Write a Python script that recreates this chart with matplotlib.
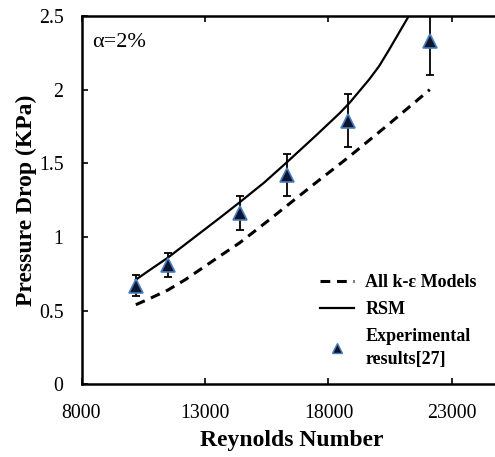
import matplotlib
matplotlib.use("Agg")
import matplotlib.pyplot as plt
from matplotlib.lines import Line2D

# Data
exp_re = [10200, 11500, 14400, 16300, 18800, 22100]
exp_dp = [0.67, 0.81, 1.16, 1.42, 1.79, 2.33]
exp_err = [0.07, 0.08, 0.115, 0.14, 0.18, 0.23]

rsm_re = [10200, 10800, 11500, 12200, 12900, 13600, 14400, 15400, 16300,
          17500, 18450, 18850, 19250, 19650, 20050, 20450, 20850, 21250, 21500]
rsm_dp = [0.71, 0.78, 0.86, 0.95, 1.04, 1.13, 1.235, 1.37, 1.505,
          1.69, 1.84, 1.91, 1.99, 2.07, 2.16, 2.27, 2.385, 2.50, 2.57]

ke_re = [10200, 10800, 11500, 12200, 12900, 13600, 14400, 15400, 16300,
         17500, 18800, 20400, 22100]
ke_dp = [0.54, 0.585, 0.64, 0.71, 0.79, 0.87, 0.96, 1.09, 1.21,
         1.37, 1.54, 1.76, 2.00]

xticks = [8000, 13000, 18000, 23000]
yticks = [0, 0.5, 1, 1.5, 2, 2.5]
ytick_labels = ["0", "0.5", "1", "1.5", "2", "2.5"]

plt.rcParams['font.family'] = ['Liberation Serif', 'DejaVu Serif']

fig = plt.figure(figsize=(4.95, 4.57), dpi=100)
W, H = 495, 457
left, right, top, bottom = 81.5, 81.5 + 17000 / 5000 * 123.5, 16, 384.3
ax = fig.add_axes([left / W, 1 - bottom / H, (right - left) / W, (bottom - top) / H])

ax.plot(ke_re, ke_dp, color='black', lw=2.2, ls=(0, (3.2, 2.2)), label='All k-ε Models')
ax.plot(rsm_re, rsm_dp, color='black', lw=1.6, label='RSM')
ax.errorbar(exp_re, exp_dp, yerr=exp_err, fmt='none', ecolor='black', elinewidth=1.3,
            capsize=3, capthick=1.3)
ax.plot(exp_re, exp_dp, ls='none', marker='^', ms=10, mfc='#0b1430', mec='#4a7ebb',
        mew=1.2, label='Experimental\nresults[27]')

ax.set_xlim(8000, 25000)
ax.set_ylim(0, 2.5)
ax.set_xticks(xticks)
ax.set_xticklabels([str(t) for t in xticks])
ax.set_yticks(yticks)
ax.set_yticklabels(ytick_labels)
ax.tick_params(direction='in', length=4, width=1.2, labelsize=14.3, top=True, right=False)
ax.tick_params(axis='x', pad=14)
ax.tick_params(axis='y', pad=13)
for s in ['left', 'bottom', 'top']:
    ax.spines[s].set_linewidth(1.8)
ax.spines['right'].set_visible(False)

ax.set_xlabel('Reynolds Number', fontsize=17, fontweight='bold', labelpad=5)
ax.set_ylabel('Pressure Drop (KPa)', fontsize=17, fontweight='bold', labelpad=1)

ax.text(0.025, 0.955, 'α=2%', transform=ax.transAxes, fontsize=16, va='top', ha='left')

h = [Line2D([], [], color='black', lw=2.2, ls=(0, (3.2, 2.2))),
     Line2D([], [], color='black', lw=1.6),
     Line2D([], [], ls='none', marker='^', ms=7, mfc='#0b1430', mec='#4a7ebb', mew=1.0)]
leg = ax.legend(h, ['All k-ε Models', 'RSM', 'Experimental\nresults[27]'],
                loc='lower left', bbox_to_anchor=(0.53, 0.0), frameon=False,
                prop={'weight': 'bold', 'size': 13}, handlelength=1.85,
                labelspacing=0.55, handletextpad=0.65)
for t in leg.get_texts():
    t.set_linespacing(1.45)

fig.savefig('out.png', dpi=100)
